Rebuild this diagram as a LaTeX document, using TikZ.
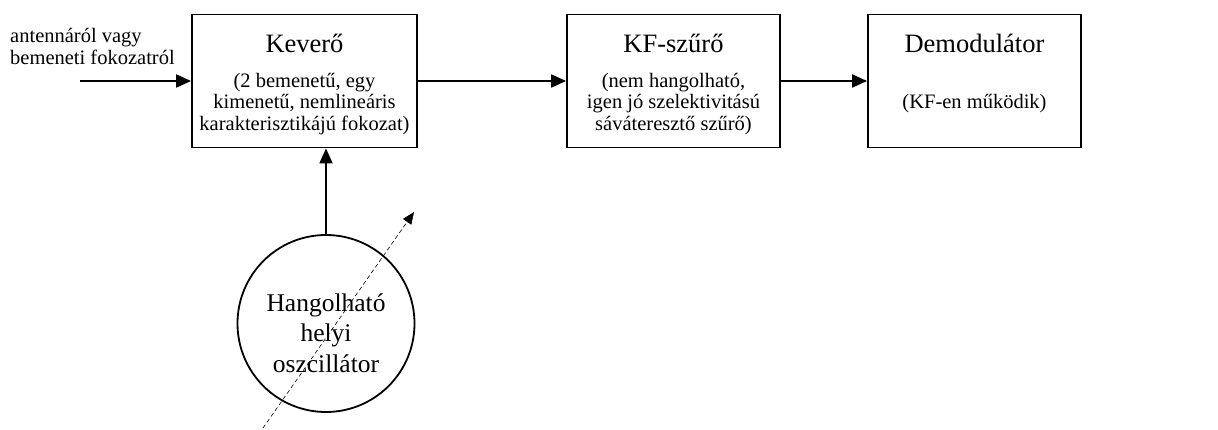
\documentclass[tikz,border=0pt]{standalone}
\usepackage{fontspec}
\setmainfont{Liberation Serif}
\usetikzlibrary{arrows.meta}
\tikzset{
  blk/.style={draw, line width=1.8pt, minimum height=133pt, inner sep=0pt},
  ttl/.style={anchor=base, font=\fontsize{26.5}{30}\selectfont, inner sep=0pt},
  sub/.style={anchor=base, font=\fontsize{20.5}{22}\selectfont, inner sep=0pt},
  osctxt/.style={font=\fontsize{25.5}{30.5}\selectfont, align=center, inner sep=0pt},
  conn/.style={line width=1.8pt, -{Triangle[length=15pt,width=13pt]}},
  tune/.style={line width=0.6pt, dash pattern=on 4pt off 3pt, -{Triangle[length=12pt,width=10pt]}}
}
\begin{document}
\begin{tikzpicture}[x=1pt,y=-1pt]
\useasboundingbox (0,0) rectangle (1218,430);
% boxes
\node[blk, minimum width=225pt] (kev) at (304.5,81) {};
\node[blk, minimum width=213pt] (kf) at (673.5,81) {};
\node[blk, minimum width=213pt] (dem) at (974.5,81) {};
% texts
\node[ttl] (kevt) at (304.5,53) {Keverő};
\node[sub] (kev1) at (304.5,88) {(2 bemenetű, egy};
\node[sub] (kev2) at (304.5,109) {kimenetű, nemlineáris};
\node[sub] (kev3) at (304.5,131) {karakterisztikájú fokozat)};
\node[ttl] (kft) at (673.5,53) {KF-szűrő};
\node[sub] (kf1) at (673.5,88) {(nem hangolható,};
\node[sub] (kf2) at (673.5,109) {igen jó szelektivitású};
\node[sub] (kf3) at (673.5,131) {sáváteresztő szűrő)};
\node[ttl] (demt) at (974.5,53) {Demodulátor};
\node[sub] (dem1) at (974.5,109) {(KF-en működik)};
\node[sub, anchor=base west] (in1) at (10,43) {antennáról vagy};
\node[sub, anchor=base west] (in2) at (10,65) {bemeneti fokozatról};
% oscillator
\node[draw, circle, line width=1.8pt, minimum size=177pt, inner sep=0pt] (osc) at (326,323.5) {};
\node[osctxt] (osct) at (326,333) {Hangolható\\helyi\\oszcillátor};
% connectors
\coordinate (src) at (80,81);
\draw[conn] (src) -- (src -| kev.west);
\draw[conn] (kev.east) -- (kf.west);
\draw[conn] (kf.east) -- (dem.west);
\draw[conn] (osc.north) -- (osc.north |- kev.south);
\coordinate (t0) at (263,428);
\coordinate (t1) at (414,212);
\draw[tune] (t0) -- (t1);
\end{tikzpicture}
\end{document}
